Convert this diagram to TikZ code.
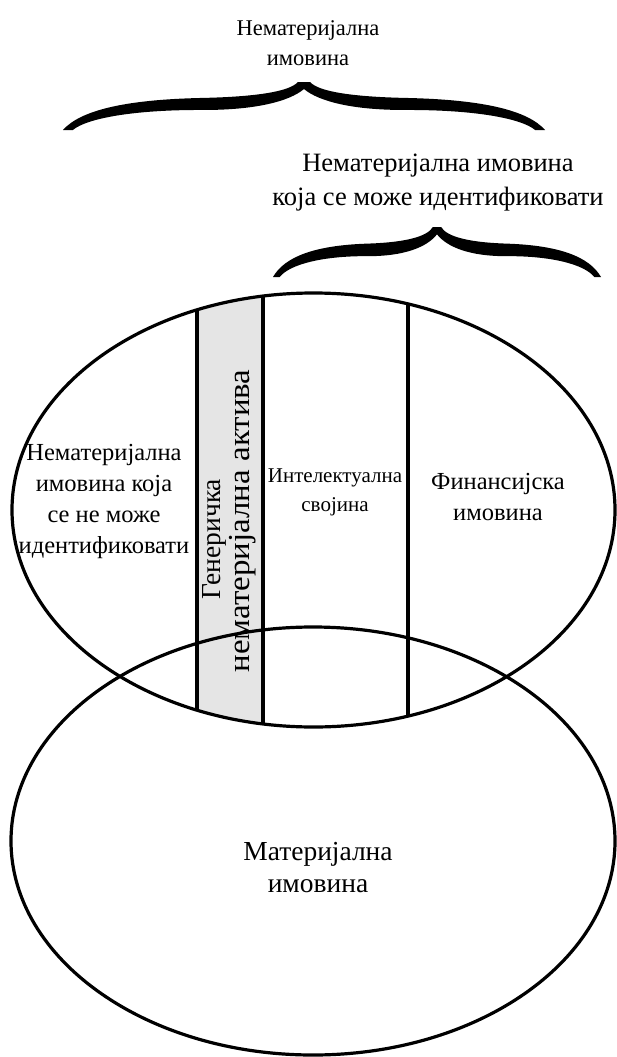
\documentclass[tikz,border=0pt]{standalone}
\usepackage{fontspec}
\setmainfont{Liberation Serif}
\newfontfamily\labelserif{Liberation Serif}
\newfontfamily\widerserif[FakeStretch=1.08]{Liberation Serif}
\newcommand\labelsize[2]{\labelserif\fontsize{#1}{#2}\selectfont}
\begin{document}
\begin{tikzpicture}[x=1pt,y=-1pt,
  outline/.style={line width=3.2pt},
  lbl/.style={align=center, font=\labelsize{22.5}{30}, inner sep=0pt},
  curly/.pic={
    \fill (-1,1) .. controls (-0.93,0.6) and (-0.75,0.37) .. (-0.43,0.333)
      .. controls (-0.2,0.31) and (-0.06,0.2) .. (-0.025,0)
      -- (0.025,0)
      .. controls (0.06,0.2) and (0.2,0.31) .. (0.43,0.333)
      .. controls (0.75,0.37) and (0.93,0.6) .. (1,1)
      -- (0.959,1)
      .. controls (0.9,0.75) and (0.7,0.58) .. (0.43,0.583)
      .. controls (0.2,0.59) and (0.06,0.4) .. (0,0.146)
      .. controls (-0.06,0.4) and (-0.2,0.59) .. (-0.43,0.583)
      .. controls (-0.7,0.58) and (-0.9,0.75) .. (-0.959,1) -- cycle;
  }]
\useasboundingbox (0,0) rectangle (616,1057);

% braces
\pic[xscale=241, yscale=48] at (304,82) {curly};
\pic[xscale=164, yscale=50] at (437,227) {curly};

% shaded strip and dividers inside the upper oval
\begin{scope}
  \clip (313.5,510) ellipse [x radius=301.5, y radius=217];
  \fill[gray!20] (197,280) rectangle (263,740);
  \coordinate (d1t) at (197,280); \coordinate (d1b) at (197,740);
  \coordinate (d2t) at (263,280); \coordinate (d2b) at (263,740);
  \coordinate (d3t) at (408,280); \coordinate (d3b) at (408,740);
  \draw[outline] (d1t) -- (d1b);
  \draw[outline] (d2t) -- (d2b);
  \draw[outline] (d3t) -- (d3b);
\end{scope}

% ovals
\draw[outline] (313.5,510) ellipse [x radius=301.5, y radius=217];
\draw[outline] (313,841) ellipse [x radius=302, y radius=214];

% labels
\node[lbl] (title) at (308,43) {Нематеријална\\имовина};
\node[lbl, font=\labelsize{26.5}{34}] (subtitle) at (438,183) {Нематеријална имовина\\која се може идентификовати};
\node[lbl, font=\labelsize{24.5}{31}] (unident) at (104,501) {Нематеријална\\имовина која\\се не може\\идентификовати};
\node[lbl, rotate=90, font=\labelsize{27.5}{30}] (generic) at (214.5,539) {Генеричка};
\node[lbl, rotate=90, font=\widerserif\fontsize{30.5}{32}\selectfont] (generic2) at (243,521) {нематеријална актива};
\node[lbl, font=\labelsize{21}{29}] (intel) at (335,492) {Интелектуална\\својина};
\node[lbl, font=\labelsize{24.5}{31}] (financial) at (498,497) {Финансијска\\имовина};
\node[lbl, font=\labelsize{27.5}{32}] (tangible) at (318,868) {Материјална\\имовина};
\end{tikzpicture}
\end{document}
